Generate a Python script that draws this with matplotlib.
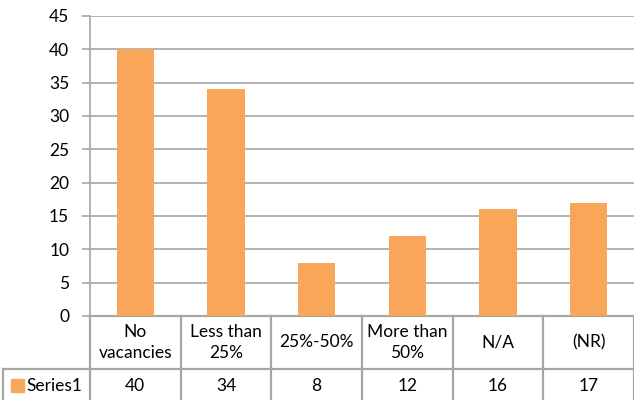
import matplotlib.pyplot as plt
from matplotlib.patches import Rectangle

categories = ["No\nvacancies", "Less than\n25%", "25%-50%", "More than\n50%", "N/A", "(NR)"]
values = [40, 34, 8, 12, 16, 17]
series_name = "Series1"
yticks = [0, 5, 10, 15, 20, 25, 30, 35, 40, 45]

bar_color = "#F8A65A"
line_color = "#A6A6A6"
plt.rcParams['font.family'] = ['Lato', 'DejaVu Sans']
fs = 12.5

fig = plt.figure(figsize=(6.34, 4.0), dpi=100)
ax = fig.add_axes([90/634, 84/400, 544/634, 300/400])

x = [i + 0.5 for i in range(len(values))]
ax.bar(x, values, width=0.41, color=bar_color, zorder=3)

ax.set_xlim(0, len(values))
ax.set_ylim(0, 45)
ax.set_yticks(yticks)
ax.set_xticks([])
ax.yaxis.grid(True, color=line_color, linewidth=1.2, zorder=0)
ax.tick_params(axis='y', length=6, width=1.2, color=line_color, labelsize=fs, pad=9)
for s in ["top", "right", "bottom"]:
    ax.spines[s].set_visible(False)
ax.spines["left"].set_color(line_color)
ax.spines["left"].set_linewidth(1.2)

# data table under the axis
tr = ax.get_xaxis_transform()
row1 = -0.175
row2 = -0.29
label_left = -0.96
kw = dict(color=line_color, linewidth=1.6, transform=tr, clip_on=False)
ax.plot([0, len(values)], [0, 0], **kw)
ax.plot([label_left, len(values)], [row1, row1], **kw)
ax.plot([label_left, len(values)], [row2, row2], **kw)
for i in range(len(values) + 1):
    ax.plot([i, i], [0, row2], **kw)
ax.plot([label_left, label_left], [row1, row2], **kw)

for xi, cat, v in zip(x, categories, values):
    ax.text(xi, row1 / 2, cat, ha='center', va='center', fontsize=fs,
            transform=tr, linespacing=1.35)
    ax.text(xi, (row1 + row2) / 2, str(v), ha='center', va='center',
            fontsize=fs, transform=tr)

ax.add_patch(Rectangle((-0.87, (row1 + row2) / 2 - 0.022), 0.14, 0.044,
                       color=bar_color, transform=tr, clip_on=False))
ax.text(-0.70, (row1 + row2) / 2, series_name, ha='left', va='center',
        fontsize=fs, transform=tr)

fig.savefig("out.png", dpi=100)
